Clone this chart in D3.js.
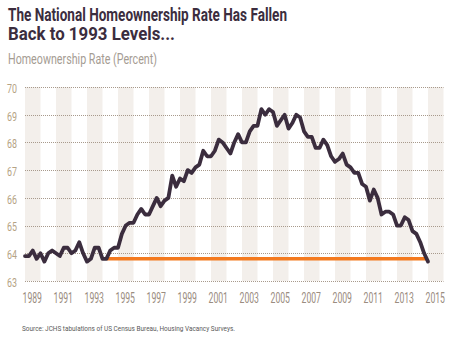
<!DOCTYPE html>
<html><head><meta charset="utf-8">
<script src="https://cdn.jsdelivr.net/npm/d3@7"></script>
<style>
html,body{margin:0;padding:0;background:#fff;}
svg{display:block;}
</style></head>
<body>
<script>
const years = d3.range(1989, 2016);
const yTicks = [63, 64, 65, 66, 67, 68, 69, 70];
const xTickLabels = ["1989","1991","1993","1995","1997","1999","2001","2003","2005","2007","2009","2011","2013","2015"];
// quarterly homeownership rate, 1989Q1 - 2015Q1
const rate1989 = [63.9, 63.9, 64.1, 63.8];
const rate1990 = [64.0, 63.7, 64.0, 64.1];
const rate1991 = [64.0, 63.9, 64.2, 64.2];
const rate1992 = [64.0, 64.1, 64.4, 64.0];
const rate1993 = [63.7, 63.8, 64.2, 64.2];
const rate1994 = [63.8, 63.8, 64.1, 64.2];
const rate1995 = [64.2, 64.7, 65.0, 65.1];
const rate1996 = [65.1, 65.4, 65.6, 65.4];
const rate1997 = [65.4, 65.7, 66.0, 65.7];
const rate1998 = [65.9, 66.0, 66.8, 66.4];
const rate1999 = [66.7, 66.6, 67.0, 66.9];
const rate2000 = [67.1, 67.2, 67.7, 67.5];
const rate2001 = [67.5, 67.7, 68.1, 68.0];
const rate2002 = [67.8, 67.6, 68.0, 68.3];
const rate2003 = [68.0, 68.0, 68.4, 68.6];
const rate2004 = [68.6, 69.2, 69.0, 69.2];
const rate2005 = [69.1, 68.6, 68.8, 69.0];
const rate2006 = [68.5, 68.7, 69.0, 68.9];
const rate2007 = [68.4, 68.2, 68.2, 67.8];
const rate2008 = [67.8, 68.1, 67.9, 67.5];
const rate2009 = [67.3, 67.4, 67.6, 67.2];
const rate2010 = [67.1, 66.9, 66.9, 66.5];
const rate2011 = [66.4, 65.9, 66.3, 66.0];
const rate2012 = [65.4, 65.5, 65.5, 65.4];
const rate2013 = [65.0, 65.0, 65.3, 65.2];
const rate2014 = [64.8, 64.7, 64.4, 64.0];
const rate2015 = [63.7];
const rateByYear = [rate1989,rate1990,rate1991,rate1992,rate1993,rate1994,rate1995,rate1996,rate1997,rate1998,rate1999,rate2000,rate2001,rate2002,rate2003,rate2004,rate2005,rate2006,rate2007,rate2008,rate2009,rate2010,rate2011,rate2012,rate2013,rate2014,rate2015];
// reference level line (1993 levels)
const refLevel = 63.8;
const refStart = 1994.3;
const refEnd = 2015.0;

const W = 449, H = 338;
const svg = d3.select("body").append("svg").attr("width", W).attr("height", H);

const x = d3.scaleLinear().domain([1989, 2016]).range([25, 443.5]);
const y = d3.scaleLinear().domain([63, 70]).range([281, 87]);

// bands for odd years
svg.append("g").selectAll("rect").data(years.filter(yr => yr % 2 === 1)).join("rect")
  .attr("x", d => x(d)).attr("width", d => x(d + 1) - x(d))
  .attr("y", y(70)).attr("height", y(63) - y(70))
  .attr("fill", "#f3efeb");

// grid lines
svg.append("g").selectAll("line").data(yTicks).join("line")
  .attr("x1", x(1989)).attr("x2", x(2016))
  .attr("y1", d => Math.round(y(d)) + 0.5).attr("y2", d => Math.round(y(d)) + 0.5)
  .attr("stroke", "#a89a8c").attr("stroke-width", 1).attr("stroke-dasharray", "1,1");

// y axis labels
const yAxis = d3.axisLeft(y).tickValues(yTicks).tickFormat(d3.format("d")).tickSize(0).tickPadding(0);
const gy = svg.append("g").attr("transform", "translate(17,1.5)").call(yAxis);
gy.select(".domain").remove();
gy.selectAll("text").attr("font-family", "Roboto, sans-serif").attr("font-size", 12)
  .attr("fill", "#b5a384").attr("text-anchor", "end").attr("textLength", 10).attr("lengthAdjust", "spacingAndGlyphs");

// x axis labels (centered on year bands), condensed via horizontal scale
const xAxis = d3.axisBottom(x).tickValues(xTickLabels.map(s => +s + 0.5)).tickFormat(d => String(Math.floor(d))).tickSize(0).tickPadding(0);
const gx = svg.append("g").attr("transform", "translate(-1,293)").call(xAxis);
gx.select(".domain").remove();
gx.selectAll("text").attr("font-family", "Roboto, sans-serif").attr("font-size", 14)
  .attr("fill", "#9a8c80").attr("transform", "scale(0.62,1)");

// data points
const pts = [];
rateByYear.forEach((arr, i) => arr.forEach((v, q) => pts.push({t: years[i] + q / 4, v})));

// reference line
svg.append("line")
  .attr("x1", x(refStart)).attr("x2", x(refEnd))
  .attr("y1", y(refLevel)).attr("y2", y(refLevel))
  .attr("stroke", "#f47a1f").attr("stroke-width", 3.5);

svg.append("path").datum(pts)
  .attr("d", d3.line().x(d => x(d.t)).y(d => y(d.v)))
  .attr("fill", "none").attr("stroke", "#3b2d3e").attr("stroke-width", 3.8)
  .attr("stroke-linejoin", "round").attr("stroke-linecap", "round");

// titles
svg.append("text").attr("x", 8).attr("y", 21).text("The National Homeownership Rate Has Fallen")
  .attr("font-family", "Roboto, sans-serif").attr("font-weight", 700).attr("font-size", 18)
  .attr("fill", "#3b2d3e").attr("textLength", 279).attr("lengthAdjust", "spacingAndGlyphs");
svg.append("text").attr("x", 8).attr("y", 40).text("Back to 1993 Levels...")
  .attr("font-family", "Roboto, sans-serif").attr("font-weight", 700).attr("font-size", 18)
  .attr("fill", "#3b2d3e").attr("textLength", 167).attr("lengthAdjust", "spacingAndGlyphs");
svg.append("text").attr("x", 8).attr("y", 64).text("Homeownership Rate (Percent)")
  .attr("font-family", "Roboto, sans-serif").attr("font-size", 15)
  .attr("fill", "#a59c93").attr("textLength", 149).attr("lengthAdjust", "spacingAndGlyphs");
svg.append("text").attr("x", 22).attr("y", 331).text("Source: JCHS tabulations of US Census Bureau, Housing Vacancy Surveys.")
  .attr("font-family", "Roboto, sans-serif").attr("font-size", 8)
  .attr("fill", "#5a5a5a").attr("textLength", 213).attr("lengthAdjust", "spacingAndGlyphs");
</script>
</body></html>
